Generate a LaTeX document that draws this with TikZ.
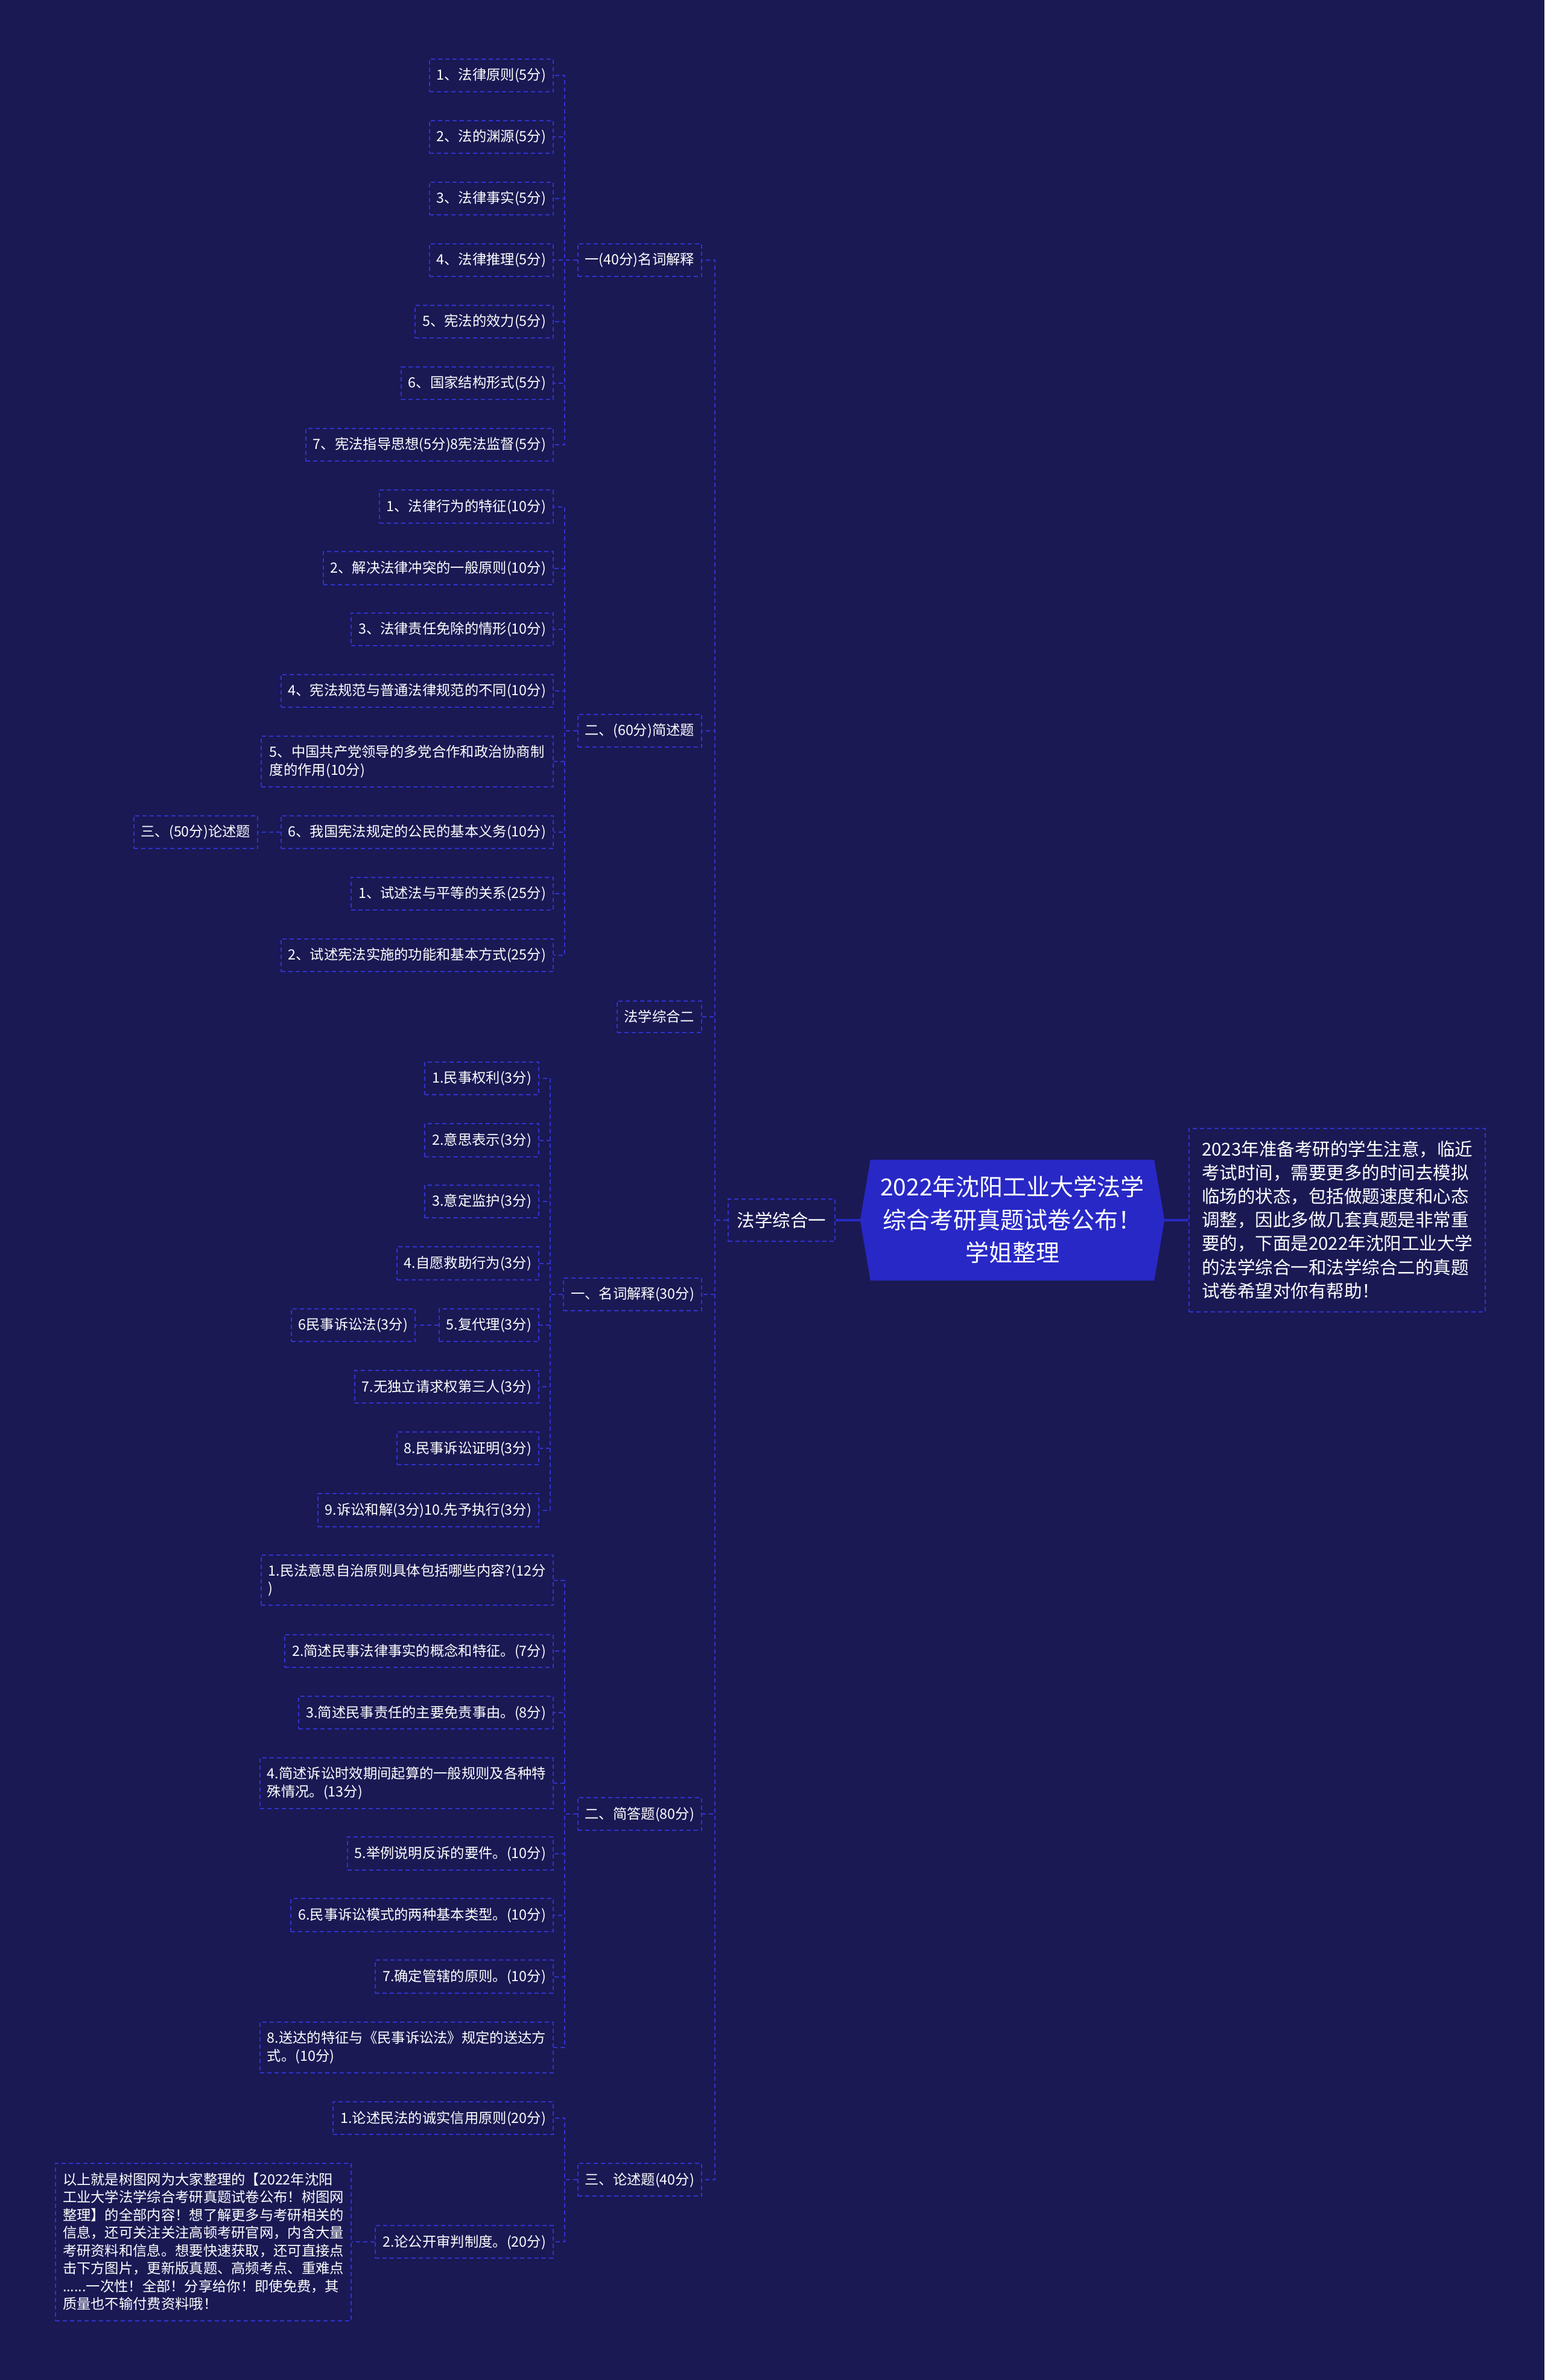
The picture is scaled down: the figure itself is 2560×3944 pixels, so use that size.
\documentclass[tikz,border=0pt]{standalone}
\usepackage{fontspec}
\setmainfont{Noto Sans CJK SC}
\definecolor{bgc}{RGB}{26,25,84}
\definecolor{lineblue}{RGB}{50,50,205}
\definecolor{rootblue}{RGB}{40,40,198}
\pgfdeclarelayer{back}
\pgfsetlayers{back,main}
\newcommand\sx{\rule[-0.12em]{0pt}{1em}}
\newcommand\leaffont{\fontsize{23.3pt}{29.5pt}\selectfont}
\newcommand\midfont{\fontsize{29.5pt}{39.2pt}\selectfont}
\newcommand\rootfont{\fontsize{39pt}{54.5pt}\selectfont}
\tikzset{
  dashline/.style={draw=lineblue, line width=2pt, dash pattern=on 7pt off 5pt},
  leafbox/.style={dashline, text=white, font=\leaffont, inner xsep=12pt, inner ysep=14.75pt, align=left, anchor=east, execute at begin node=\sx},
  conn/.style={dashline},
  midbox/.style={leafbox, font=\midfont, inner xsep=15pt, inner ysep=20.25pt},
  rootline/.style={draw=rootblue, line width=4pt},
}
\begin{document}
\begin{tikzpicture}[x=1pt,y=-1pt]
\path[use as bounding box] (0,0) rectangle (2560,3944);

% root
\node[text=white, font=\rootfont, align=center, minimum width=470pt, minimum height=200pt, inner sep=0pt, execute at begin node=\sx] (root) at (1678,2022) {2022年沈阳工业大学法学\\\sx 综合考研真题试卷公布！\\\sx 学姐整理};

\begin{pgfonlayer}{back}
\fill[bgc] (0,0) rectangle (2560,3944);
\fill[rootblue] (root.north west) -- (root.north east) -- ([xshift=17pt]root.east) -- (root.south east) -- (root.south west) -- ([xshift=-17pt]root.west) -- cycle;
\end{pgfonlayer}

% description
\node[leafbox, font=\midfont, inner xsep=16.5pt, inner ysep=19.7pt, anchor=west, minimum width=491pt] (desc) at (1970,2022) {2023年准备考研的学生注意，临近\\\sx 考试时间，需要更多的时间去模拟\\\sx 临场的状态，包括做题速度和心态\\\sx 调整，因此多做几套真题是非常重\\\sx 要的，下面是2022年沈阳工业大学\\\sx 的法学综合一和法学综合二的真题\\\sx 试卷希望对你有帮助！};

% level 1
\node[midbox] (f1) at (1385,2022) {法学综合一};

% level 2
\node[leafbox] (g1) at (1164,431) {一(40分)名词解释};
\node[leafbox] (g2) at (1164,1211) {二、(60分)简述题};
\node[leafbox] (g3) at (1164,1685) {法学综合二};
\node[leafbox] (g4) at (1164,2145) {一、名词解释(30分)};
\node[leafbox] (g5) at (1164,3006) {二、简答题(80分)};
\node[leafbox] (g6) at (1164,3612) {三、论述题(40分)};

% group 1
\node[leafbox] (a1) at (918,125) {1、法律原则(5分)};
\node[leafbox] (a2) at (918,227) {2、法的渊源(5分)};
\node[leafbox] (a3) at (918,329) {3、法律事实(5分)};
\node[leafbox] (a4) at (918,431) {4、法律推理(5分)};
\node[leafbox] (a5) at (918,533) {5、宪法的效力(5分)};
\node[leafbox] (a6) at (918,635) {6、国家结构形式(5分)};
\node[leafbox] (a7) at (918,737) {7、宪法指导思想(5分)8宪法监督(5分)};

% group 2
\node[leafbox] (b1) at (918,839.5) {1、法律行为的特征(10分)};
\node[leafbox] (b2) at (918,941.5) {2、解决法律冲突的一般原则(10分)};
\node[leafbox] (b3) at (918,1043) {3、法律责任免除的情形(10分)};
\node[leafbox] (b4) at (918,1145) {4、宪法规范与普通法律规范的不同(10分)};
\node[leafbox, minimum width=484.5pt] (b5) at (918,1262) {5、中国共产党领导的多党合作和政治协商制\\\sx 度的作用(10分)};
\node[leafbox] (b6) at (918,1379) {6、我国宪法规定的公民的基本义务(10分)};
\node[leafbox] (b7) at (918,1481) {1、试述法与平等的关系(25分)};
\node[leafbox] (b8) at (918,1583) {2、试述宪法实施的功能和基本方式(25分)};
\node[leafbox] (b9) at (428,1379) {三、(50分)论述题};

% group 4
\node[leafbox] (c1) at (894,1787) {1.民事权利(3分)};
\node[leafbox] (c2) at (894,1889.5) {2.意思表示(3分)};
\node[leafbox] (c3) at (894,1991) {3.意定监护(3分)};
\node[leafbox] (c4) at (894,2093.5) {4.自愿救助行为(3分)};
\node[leafbox] (c5) at (894,2196) {5.复代理(3分)};
\node[leafbox] (c6) at (894,2298) {7.无独立请求权第三人(3分)};
\node[leafbox] (c7) at (894,2400) {8.民事诉讼证明(3分)};
\node[leafbox] (c8) at (894,2502.5) {9.诉讼和解(3分)10.先予执行(3分)};
\node[leafbox] (c9) at (689,2196) {6民事诉讼法(3分)};

% group 5
\node[leafbox, minimum width=484.5pt] (d1) at (918,2618.5) {1.民法意思自治原则具体包括哪些内容?(12分\\\sx )};
\node[leafbox] (d2) at (918,2736) {2.简述民事法律事实的概念和特征。(7分)};
\node[leafbox] (d3) at (918,2838) {3.简述民事责任的主要免责事由。(8分)};
\node[leafbox, minimum width=484.5pt] (d4) at (918,2955) {4.简述诉讼时效期间起算的一般规则及各种特\\\sx 殊情况。(13分)};
\node[leafbox] (d5) at (918,3071.5) {5.举例说明反诉的要件。(10分)};
\node[leafbox] (d6) at (918,3173.5) {6.民事诉讼模式的两种基本类型。(10分)};
\node[leafbox] (d7) at (918,3275.5) {7.确定管辖的原则。(10分)};
\node[leafbox, minimum width=484.5pt] (d8) at (918,3393) {8.送达的特征与《民事诉讼法》规定的送达方\\\sx 式。(10分)};

% group 6
\node[leafbox] (e1) at (918,3510) {1.论述民法的诚实信用原则(20分)};
\node[leafbox] (e2) at (918,3715) {2.论公开审判制度。(20分)};
\node[leafbox, minimum width=485pt, inner ysep=16pt] (e3) at (583,3715) {以上就是树图网为大家整理的【2022年沈阳\\\sx 工业大学法学综合考研真题试卷公布！树图网\\\sx 整理】的全部内容！想了解更多与考研相关的\\\sx 信息，还可关注关注高顿考研官网，内含大量\\\sx 考研资料和信息。想要快速获取，还可直接点\\\sx 击下方图片，更新版真题、高频考点、重难点\\\sx ......一次性！全部！分享给你！即使免费，其\\\sx 质量也不输付费资料哦！};

% connectors
\draw[rootline] ([xshift=-17pt]root.west) -- (f1.east);
\draw[rootline] ([xshift=17pt]root.east) -- (desc.west);
\foreach \i in {1,...,6} \draw[conn] (f1.west) -- ++(-21,0) |- (g\i.east);
\foreach \i in {1,...,7} \draw[conn] (g1.west) -- ++(-21,0) |- (a\i.east);
\foreach \i in {1,...,8} \draw[conn] (g2.west) -- ++(-21,0) |- (b\i.east);
\draw[conn] (b6.west) -- ++(-21,0) |- (b9.east);
\foreach \i in {1,...,8} \draw[conn] (g4.west) -- ++(-21,0) |- (c\i.east);
\draw[conn] (c5.west) -- ++(-21,0) |- (c9.east);
\foreach \i in {1,...,8} \draw[conn] (g5.west) -- ++(-21,0) |- (d\i.east);
\foreach \i in {1,2} \draw[conn] (g6.west) -- ++(-21,0) |- (e\i.east);
\draw[conn] (e2.west) -- ++(-21,0) |- (e3.east);
\end{tikzpicture}
\end{document}
